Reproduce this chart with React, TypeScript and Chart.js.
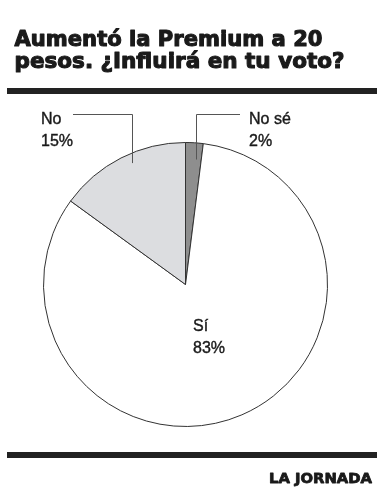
import { useEffect, useRef } from "react";
import { Chart, registerables } from "chart.js";

Chart.register(...registerables);

const titleLines = ["Aumentó la Premium a 20", "pesos. ¿Influirá en tu voto?"];
const categories = ["No sé", "Sí", "No"];
const values = [2, 83, 15];
const sliceColors = ["#8e8e8e", "#ffffff", "#dcdde0"];
const source = "LA JORNADA";

const W = 389;
const H = 500;

function drawScaled(
  ctx: CanvasRenderingContext2D,
  text: string,
  x: number,
  y: number,
  target: number,
  align: "left" | "right",
  stroke: number
) {
  const m = ctx.measureText(text).width;
  const s = target / m;
  ctx.save();
  ctx.translate(x, y);
  ctx.scale(s, 1);
  ctx.textAlign = "left";
  const tx = align === "left" ? 0 : -m;
  ctx.fillText(text, tx, 0);
  if (stroke > 0) {
    ctx.lineWidth = stroke;
    ctx.lineJoin = "round";
    ctx.strokeStyle = ctx.fillStyle as string;
    ctx.strokeText(text, tx, 0);
  }
  ctx.restore();
}

const decor = {
  id: "decor",
  beforeDraw(chart: any) {
    const ctx = chart.ctx as CanvasRenderingContext2D;
    ctx.save();
    ctx.fillStyle = "#ffffff";
    ctx.fillRect(0, 0, W, H);
    ctx.restore();
  },
  afterDraw(chart: any) {
    const ctx = chart.ctx as CanvasRenderingContext2D;
    const meta = chart.getDatasetMeta(0);
    ctx.save();
    // title
    ctx.fillStyle = "#1a1a1a";
    ctx.textBaseline = "alphabetic";
    ctx.font = "bold 21px 'DejaVu Sans'";
    drawScaled(ctx, titleLines[0], 14.5, 45.5, 308, "left", 1.1);
    drawScaled(ctx, titleLines[1], 14.5, 68, 330, "left", 1.1);
    // rules
    ctx.fillStyle = "#222222";
    ctx.fillRect(7, 88, 370, 6);
    ctx.fillRect(7, 452, 370, 6);
    // footer
    ctx.fillStyle = "#1a1a1a";
    ctx.font = "bold 14px 'DejaVu Sans'";
    drawScaled(ctx, source, 372, 482.5, 103, "right", 0.8);

    // leader lines
    const arcs = meta.data;
    const cx = arcs[0].x;
    const cy = arcs[0].y;
    const r = arcs[0].outerRadius;
    ctx.strokeStyle = "#555555";
    ctx.lineWidth = 1;
    // No (index 2)
    const noX = cx - 0.38 * r;
    ctx.beginPath();
    ctx.moveTo(73, 114.5);
    ctx.lineTo(Math.round(noX) + 0.5, 114.5);
    ctx.lineTo(Math.round(noX) + 0.5, cy - 0.855 * r);
    ctx.stroke();
    // No sé (index 0)
    const nsX = cx + 0.075 * r;
    ctx.beginPath();
    ctx.moveTo(240, 114.5);
    ctx.lineTo(Math.round(nsX) + 0.5, 114.5);
    ctx.lineTo(Math.round(nsX) + 0.5, cy - 0.88 * r);
    ctx.stroke();

    // labels
    ctx.fillStyle = "#1a1a1a";
    ctx.strokeStyle = "#1a1a1a";
    ctx.lineWidth = 0.4;
    ctx.font = "16px 'Liberation Sans'";
    ctx.textAlign = "left";
    const lab = (t: string, x: number, y: number) => {
      ctx.fillText(t, x, y);
      ctx.strokeText(t, x, y);
    };
    lab(categories[2], 41, 124);
    lab(values[2] + "%", 41, 146);
    lab(categories[0], 249, 124);
    lab(values[0] + "%", 249, 146);
    lab(categories[1], 193, 331);
    lab(values[1] + "%", 193, 353);
    ctx.restore();
  },
};

export default function App() {
  const ref = useRef<HTMLCanvasElement | null>(null);
  useEffect(() => {
    if (!ref.current) return;
    const chart = new Chart(ref.current, {
      type: "pie",
      data: {
        labels: categories,
        datasets: [
          {
            data: values,
            backgroundColor: sliceColors,
            borderColor: "#333333",
            borderWidth: 1,
          },
        ],
      },
      options: {
        responsive: false,
        animation: false,
        devicePixelRatio: 1,
        layout: { padding: { left: 43, right: 61, top: 142, bottom: 73 } },
        plugins: {
          legend: { display: false },
          tooltip: { enabled: false },
          title: { display: false },
        },
      },
      plugins: [decor],
    });
    return () => chart.destroy();
  }, []);
  return (
    <div style={{ position: "absolute", left: 0, top: 0, width: W, height: H, background: "#fff" }}>
      <canvas ref={ref} width={W} height={H} style={{ display: "block", width: W, height: H }} />
    </div>
  );
}
